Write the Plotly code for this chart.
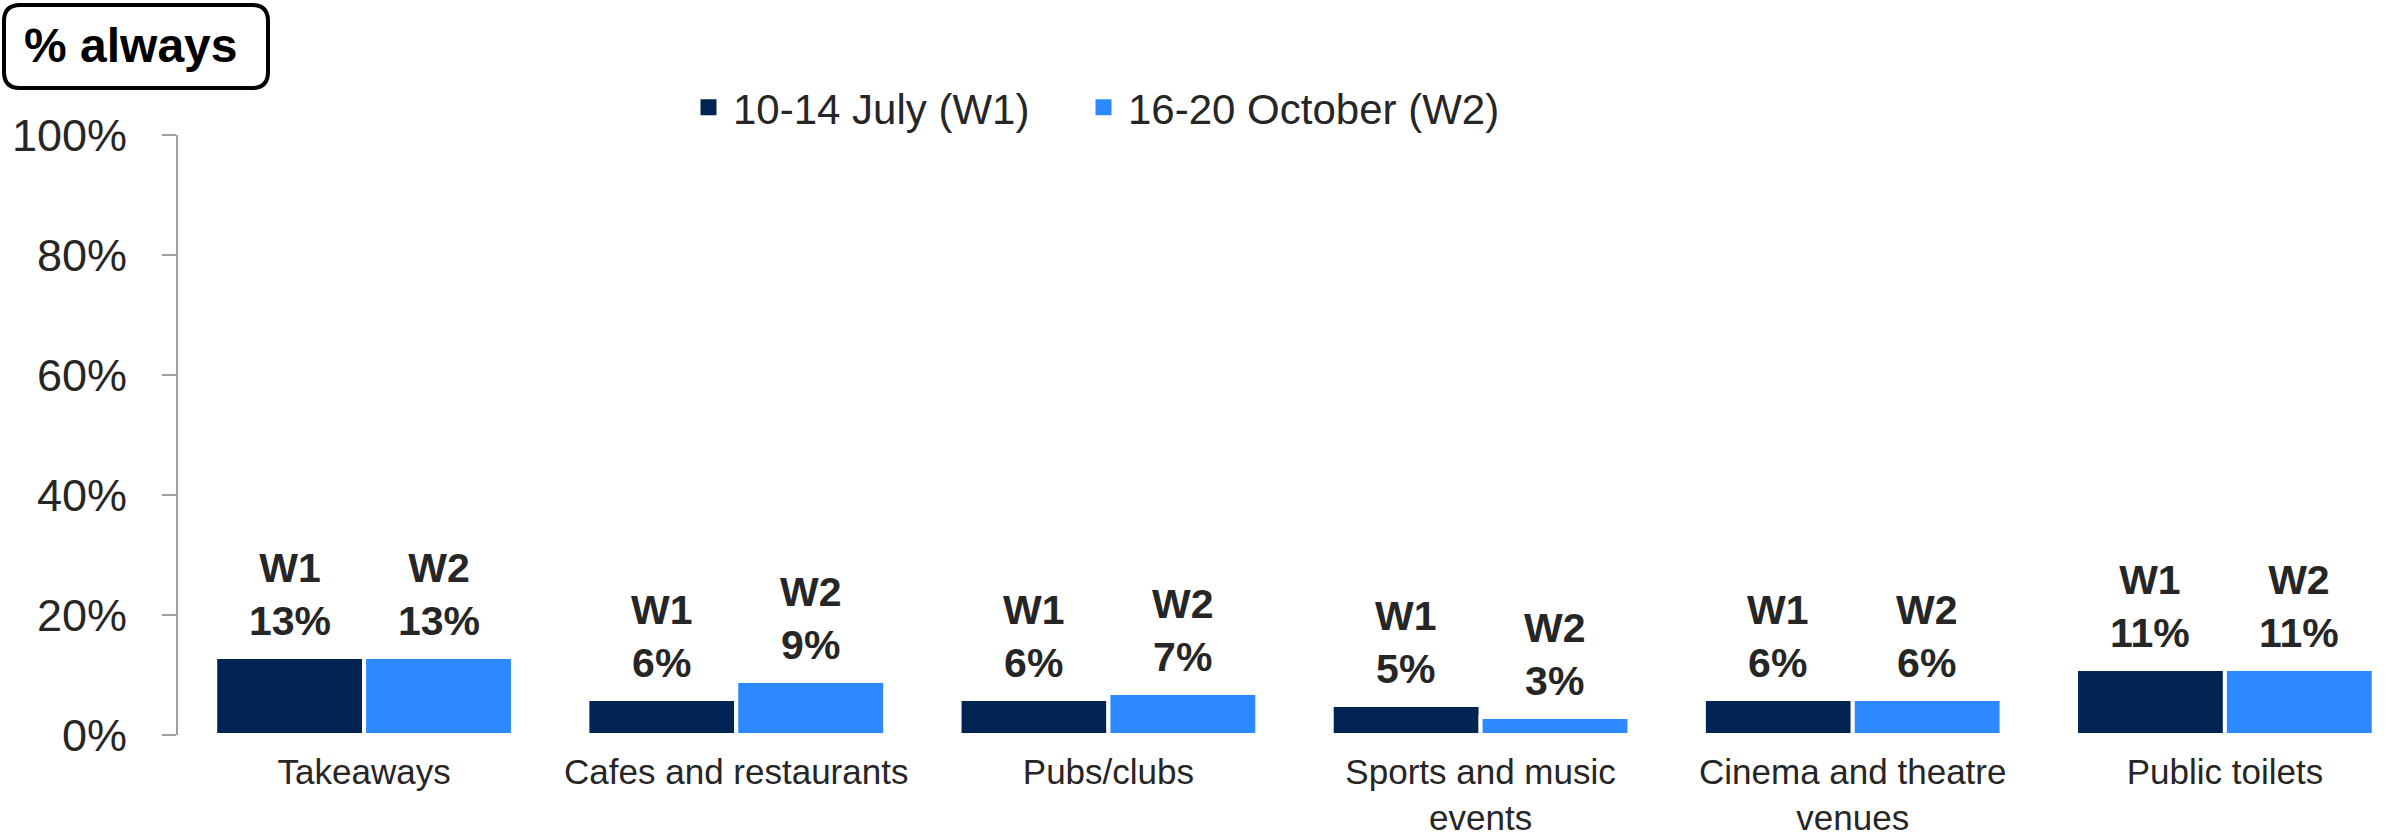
import plotly.graph_objects as go

categories = ["Takeaways", "Cafes and restaurants", "Pubs/clubs",
              "Sports and music<br>events", "Cinema and theatre<br>venues", "Public toilets"]
w1_values = [0.13, 0.06, 0.06, 0.05, 0.06, 0.11]
w2_values = [0.13, 0.09, 0.07, 0.03, 0.06, 0.11]
series_names = ["10-14 July (W1)", "16-20 October (W2)"]
series_short = ["W1", "W2"]
colors = ["#022453", "#2D89FF"]
y_ticks = [0, 0.2, 0.4, 0.6, 0.8, 1.0]

FONT = "Liberation Sans, Arial, sans-serif"
W, H = 2392, 839
ML, MR, MT, MB = 178, 0, 135, 104
PW, PH = W - ML - MR, H - MT - MB
X_RANGE = [-0.5, 5.449]
BARGAP = 0.2

fig = go.Figure()
for name, vals, col in zip(series_names, [w1_values, w2_values], colors):
    fig.add_trace(go.Bar(
        x=categories, y=vals, name=name, showlegend=False,
        marker=dict(color=col, line=dict(width=4, color="white")),
    ))

# value labels above bars, offset to each bar of the group
px_per_cat = PW / (X_RANGE[1] - X_RANGE[0])
slot = (1 - BARGAP) / 2 * px_per_cat
n_series = len(series_short)
for s, (short, vals) in enumerate(zip(series_short, [w1_values, w2_values])):
    offset = (s - (n_series - 1) / 2) * slot
    for cat, v in zip(categories, vals):
        fig.add_annotation(x=cat, y=v, xref="x", yref="y",
                           text=f"<b>{short}<br>{v*100:.0f}%</b>", showarrow=False,
                           xanchor="center", yanchor="bottom", xshift=offset, yshift=11,
                           font=dict(family=FONT, size=41, color="#262626"))

# legend entries (square swatches)
legend_widths = [341, 0]
for name, col, lw in zip(series_names, colors, legend_widths):
    fig.add_trace(go.Scatter(
        x=[None], y=[None], mode="markers", name=name, legendwidth=lw,
        marker=dict(symbol="square", size=16, color=col),
    ))

def px_x(p):
    return (p - ML) / PW

def px_y(p):
    return (H - MB - p) / PH

def rounded_rect(x0, y0, x1, y1, r):
    return (f"M {px_x(x0 + r)},{px_y(y0)} L {px_x(x1 - r)},{px_y(y0)} "
            f"Q {px_x(x1)},{px_y(y0)} {px_x(x1)},{px_y(y0 + r)} "
            f"L {px_x(x1)},{px_y(y1 - r)} Q {px_x(x1)},{px_y(y1)} {px_x(x1 - r)},{px_y(y1)} "
            f"L {px_x(x0 + r)},{px_y(y1)} Q {px_x(x0)},{px_y(y1)} {px_x(x0)},{px_y(y1 - r)} "
            f"L {px_x(x0)},{px_y(y0 + r)} Q {px_x(x0)},{px_y(y0)} {px_x(x0 + r)},{px_y(y0)} Z")

fig.add_shape(type="path", xref="paper", yref="paper",
              path=rounded_rect(4, 5, 268, 88, 16),
              line=dict(color="black", width=4), fillcolor="white")
fig.add_annotation(xref="paper", yref="paper", x=px_x(130), y=px_y(46),
                   text="<b>% always</b>", showarrow=False,
                   font=dict(family=FONT, size=48, color="black"),
                   xanchor="center", yanchor="middle")

fig.update_layout(
    width=W, height=H, autosize=False,
    margin=dict(l=ML, r=MR, t=MT, b=MB, pad=0, autoexpand=False),
    plot_bgcolor="white", paper_bgcolor="white",
    barmode="group", bargap=BARGAP, bargroupgap=0,
    font=dict(family=FONT, color="#262626"),
    legend=dict(orientation="h", x=px_x(684), y=px_y(107.5), xanchor="left", yanchor="middle",
                font=dict(family=FONT, size=42, color="#262626"),
                itemwidth=39, bgcolor="rgba(0,0,0,0)"),
    showlegend=True,
)
fig.update_xaxes(range=X_RANGE, showline=False, showgrid=False, zeroline=False,
                 automargin=False,
                 ticks="outside", ticklen=6, tickcolor="rgba(0,0,0,0)",
                 tickfont=dict(family=FONT, size=35, color="#262626"))
fig.update_yaxes(range=[0, 1], tickvals=y_ticks, tickformat=".0%", showline=True,
                 automargin=False,
                 linecolor="#A0A0A0", linewidth=2, ticks="outside", ticklen=14,
                 tickwidth=2, tickcolor="#A0A0A0", showgrid=False, zeroline=False,
                 ticklabelstandoff=26,
                 tickfont=dict(family=FONT, size=45, color="#262626"))

fig.write_html("out.html", config={"displayModeBar": False},
               post_script="document.body.style.margin='0px';")
